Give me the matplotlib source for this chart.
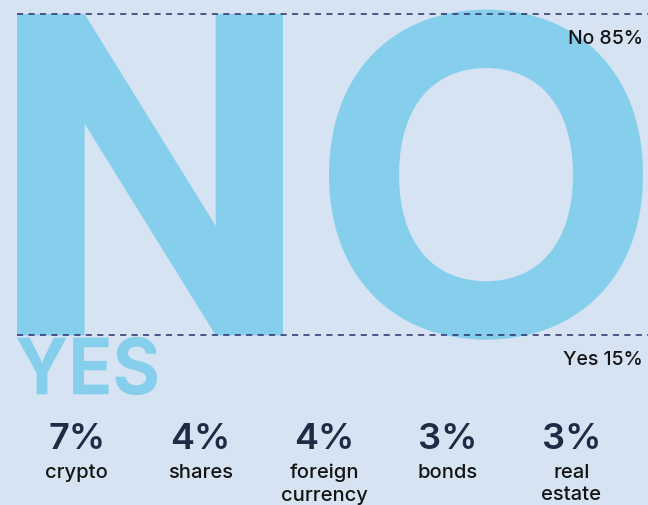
import matplotlib.pyplot as plt
from matplotlib.font_manager import FontProperties
from matplotlib.textpath import TextPath
from matplotlib.patches import PathPatch
from matplotlib.transforms import Affine2D

# survey answers (percent)
answer_words = ["NO", "YES"]
answer_labels = ["No", "Yes"]
answer_shares = [85, 15]

# what the "yes" people hold
assets = ["crypto", "shares", "foreign\ncurrency", "bonds", "real\nestate"]
asset_shares = [7, 4, 4, 3, 3]

BG = "#d6e3f3"
LETTER = "#85cfed"
DASH = "#2b2c6c"
INK = "#1f2a44"
TEXT = "#141414"

W, H = 648, 505
plt.rcParams['font.family'] = ['Inter', 'DejaVu Sans']

fig = plt.figure(figsize=(W / 100, H / 100), dpi=100, facecolor=BG)

# the percent scale: 100 sits near the top, 0 under the YES word
top_px, bottom_px = 14, 392
px_per_pct = (bottom_px - top_px) / 100
ax = fig.add_axes([0, 0, 1, 1])
ax.set_facecolor(BG)
ax.set_xlim(0, W)
ax.set_ylim(-(H - bottom_px) / px_per_pct, 100 + top_px / px_per_pct)
ax.axis('off')

inter_bold = FontProperties(family='Inter', weight='bold')
straight_bold = FontProperties(family='Roboto', weight='bold')


def glyph_patch(text, x0, x1, y0, y1, prop=inter_bold):
    """Stretch text so its cap height fills y0..y1 and its width x0..x1."""
    tp = TextPath((0, 0), text, size=100, prop=prop)
    cap = TextPath((0, 0), "H", size=100, prop=prop).get_extents()
    ext = tp.get_extents()
    sx = (x1 - x0) / ext.width
    sy = (y1 - y0) / cap.height
    tr = Affine2D().translate(-ext.x0, -cap.y0).scale(sx, sy).translate(x0, y0)
    return PathPatch(tr.transform_path(tp), fc=LETTER, ec='none', lw=0, zorder=1)


left = 17
no_share, yes_share = answer_shares
no_bottom = 100 - no_share

# big NO: one letter per half of the width
ax.add_patch(glyph_patch(answer_words[0][0], left, 283, no_bottom, 100,
                         prop=straight_bold))
ax.add_patch(glyph_patch(answer_words[0][1], 329, 643, no_bottom, 100))
ax.add_patch(glyph_patch(answer_words[1], left, 157, -0.6, yes_share - 0.6))

ax.hlines([100, no_bottom], left, W, colors=DASH, linestyles=(0, (4, 3.5)),
          lw=1.1, zorder=3)

drop = 30 / px_per_pct
ax.text(643, 100 - drop, f"{answer_labels[0]} {no_share}%", ha='right',
        va='baseline', fontsize=14, color=TEXT, fontweight='medium', zorder=4)
ax.text(643, no_bottom - drop, f"{answer_labels[1]} {yes_share}%", ha='right',
        va='baseline', fontsize=14, color=TEXT, fontweight='medium', zorder=4)

# breakdown row under the chart
col_w = (W - 2 * 15) / len(assets)
for i, (name, share) in enumerate(zip(assets, asset_shares)):
    cx = (15 + col_w * (i + 0.5)) / W
    fig.text(cx, 1 - 449 / H, f"{share}%", ha='center', va='baseline',
             fontsize=26, fontweight='semibold', color=INK)
    fig.text(cx, 1 - 464 / H, name, ha='center', va='top', fontsize=14.5,
             fontweight='medium', color=TEXT, linespacing=1.32)

fig.savefig("out.png", dpi=100, facecolor=BG)
